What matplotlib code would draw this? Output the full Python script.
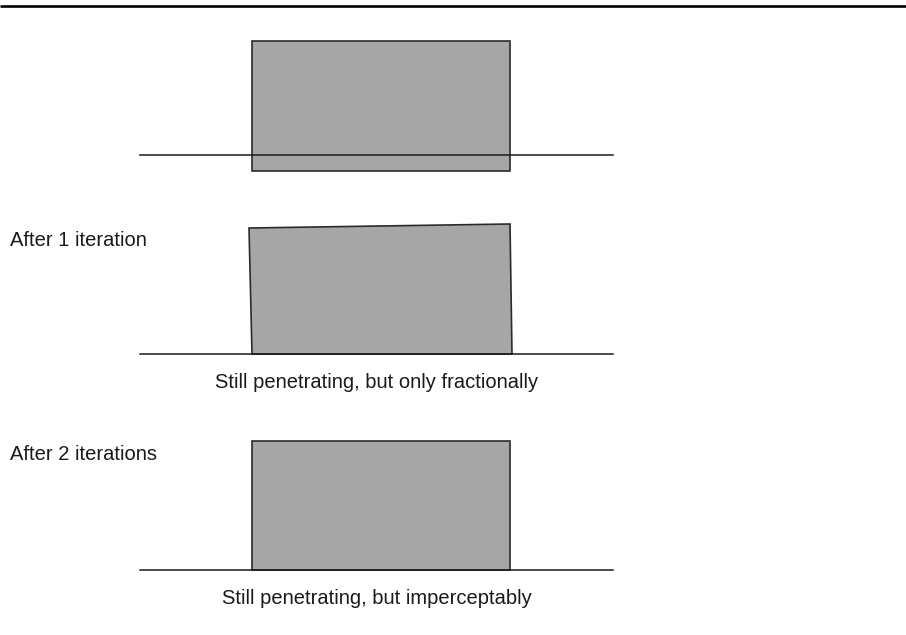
import matplotlib.pyplot as plt
from matplotlib.patches import Polygon

plt.rcParams['font.family'] = ['Liberation Sans', 'DejaVu Sans']

# block corners (x, y) in picture pixels, y downward
block_1 = [(252, 41), (510, 41), (510, 171), (252, 171)]
block_2 = [(249, 228), (510, 224), (512, 354), (252, 354)]
block_3 = [(252, 441), (510, 441), (510, 570), (252, 570)]
blocks = [block_1, block_2, block_3]

ground_y = [155, 354, 570]
ground_x = (140, 613)

side_labels = ['', 'After 1 iteration', 'After 2 iterations']
side_label_y = [0, 240, 455]
captions = ['', 'Still penetrating, but only fractionally',
            'Still penetrating, but imperceptably']
caption_y = [0, 382, 599]

fig = plt.figure(figsize=(9.06, 6.35), dpi=100)
ax = fig.add_axes([0, 0, 1, 1])
ax.set_xlim(0, 906)
ax.set_ylim(635, 0)
ax.axis('off')

# rule across the top
ax.plot([0, 906], [6, 6], color='black', lw=1.9, solid_capstyle='butt')

for i in range(3):
    ax.add_patch(Polygon(blocks[i], closed=True, facecolor='#a6a6a6',
                         edgecolor='#2b2b2b', lw=1.2, zorder=2))
    ax.plot(ground_x, [ground_y[i], ground_y[i]], color='#1a1a1a', lw=1.1, zorder=3)
    if side_labels[i]:
        ax.text(10, side_label_y[i], side_labels[i], fontsize=14.5,
                ha='left', va='center', color='#1a1a1a')
    if captions[i]:
        ax.text(377, caption_y[i], captions[i], fontsize=14.5,
                ha='center', va='center', color='#1a1a1a')

fig.savefig('out.png', dpi=100)
